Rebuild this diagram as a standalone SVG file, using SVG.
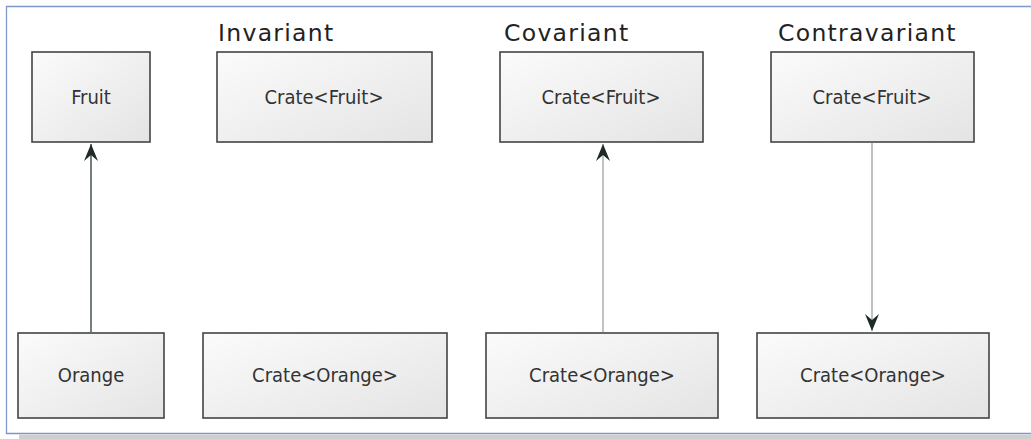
<svg xmlns="http://www.w3.org/2000/svg" width="1031" height="439" viewBox="0 0 1031 439">
<defs>
<linearGradient id="boxg" x1="0" y1="0" x2="1" y2="1">
<stop offset="0" stop-color="#fbfbfb"/>
<stop offset="1" stop-color="#e4e4e4"/>
</linearGradient>
<marker id="arrU" viewBox="-9 -1 18 20" markerWidth="18" markerHeight="20" refX="0" refY="0" orient="0" markerUnits="userSpaceOnUse">
<path d="M0,0 L7,17 L0,11 L-7,17 Z" fill="#1e2a26"/>
</marker>
<marker id="arrD" viewBox="-9 -19 18 20" markerWidth="18" markerHeight="20" refX="0" refY="0" orient="0" markerUnits="userSpaceOnUse">
<path d="M0,0 L7,-17 L0,-11 L-7,-17 Z" fill="#1e2a26"/>
</marker>
</defs>
<style>
.box{fill:url(#boxg);stroke:#444;stroke-width:1.6}
.lbl{font-family:"DejaVu Sans Condensed","DejaVu Sans",sans-serif;font-stretch:condensed;font-size:20px;fill:#333;text-anchor:middle}
.ttl{font-family:"DejaVu Sans",sans-serif;font-size:23.5px;letter-spacing:1.3px;fill:#222}
.conn{fill:none;stroke-width:1.3}
</style>
<rect x="0" y="0" width="1031" height="439" fill="#fff"/>
<g id="frame">
<path d="M6.5,434 L6.5,6.5 L1031,6.5" fill="none" stroke="#7d99cc" stroke-width="1.3"/>
<line x1="6" y1="433.5" x2="1031" y2="433.5" stroke="#7d99cc" stroke-width="1.5"/>
<rect x="19" y="434.5" width="1012" height="4.5" fill="#cfcfcf"/>
</g>
<g id="titles">
<text class="ttl" x="218" y="41">Invariant</text>
<text class="ttl" x="504" y="41">Covariant</text>
<text class="ttl" x="778" y="41">Contravariant</text>
</g>
<g id="fruit"><rect class="box" x="32" y="52" width="118" height="90"/><text class="lbl" x="91" y="104">Fruit</text></g>
<g id="orange"><rect class="box" x="18" y="333" width="146" height="85"/><text class="lbl" x="91" y="382">Orange</text></g>
<g id="inv-crate-fruit"><rect class="box" x="217" y="52" width="215" height="90"/><text class="lbl" x="324" y="104">Crate&lt;Fruit&gt;</text></g>
<g id="inv-crate-orange"><rect class="box" x="203" y="333" width="244" height="85"/><text class="lbl" x="325" y="382">Crate&lt;Orange&gt;</text></g>
<g id="cov-crate-fruit"><rect class="box" x="500" y="52" width="203" height="90"/><text class="lbl" x="601" y="104">Crate&lt;Fruit&gt;</text></g>
<g id="cov-crate-orange"><rect class="box" x="486" y="333" width="232" height="85"/><text class="lbl" x="602" y="382">Crate&lt;Orange&gt;</text></g>
<g id="con-crate-fruit"><rect class="box" x="771" y="52" width="203" height="90"/><text class="lbl" x="872" y="104">Crate&lt;Fruit&gt;</text></g>
<g id="con-crate-orange"><rect class="box" x="757" y="333" width="232" height="85"/><text class="lbl" x="873" y="382">Crate&lt;Orange&gt;</text></g>
<g id="connectors">
<line class="conn" x1="91" y1="332" x2="91" y2="144" stroke="#2a3a35" marker-end="url(#arrU)"/>
<line class="conn" x1="603" y1="332" x2="603" y2="144" stroke="#9aa5a2" marker-end="url(#arrU)"/>
<line class="conn" x1="872" y1="143" x2="872" y2="331" stroke="#9aa5a2" marker-end="url(#arrD)"/>
</g>
</svg>
